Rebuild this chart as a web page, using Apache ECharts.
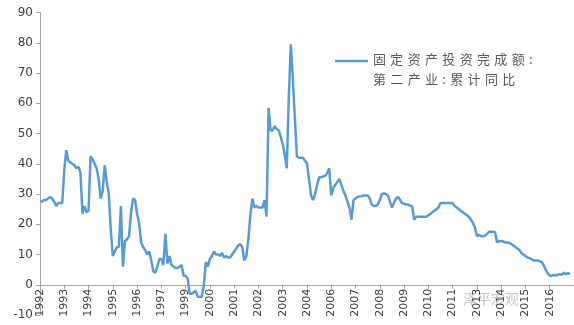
<!DOCTYPE html>
<html><head><meta charset="utf-8">
<script src="https://cdn.jsdelivr.net/npm/echarts@6/dist/echarts.min.js"></script>
<style>html,body{margin:0;padding:0;background:#fff}#c{width:574px;height:325px}</style>
</head><body><div id="c"></div>
<script>
// Tick labels shown every 12 monthly observations
const tickLabels = ['1992','1993','1994','1995','1996','1997','1999','2000','2001','2002','2003','2004','2006','2007','2008','2009','2010','2011','2013','2014','2015','2016'];
const yTicks = [-10,0,10,20,30,40,50,60,70,80,90];
const seriesName = '固定资产投资完成额:第二产业:累计同比';
// 累计同比 (%) monthly observations
const values1992 = [27.4,27.5,28,28,28.5,29,28.5,27.5,26,27,27,27];
const values1993 = [38,44.5,41,40.5,40,39.5,38.5,39,37,23.5,26,24];
const values1994 = [24.5,42.5,41.5,40,38.5,35,28.5,31,39.5,34,30,18];
const values1995 = [9.5,11,12.5,12.5,26,6,14.5,15,16,24,28.5,28];
const values1996 = [23.5,20.5,14,12.5,11.5,10,11,8,4.5,4,6,8.5];
const values1997 = [8.5,6.5,16.8,7,9.5,6.5,6,5.5,5.5,6,6.5,3];
const values1999 = [3,2,-3,-3,-2.5,-2,-4,-4,-4,0,7.5,6];
const values2000 = [8.5,9.5,11,10,10,9.5,10.5,9,9.5,9,9,10];
const values2001 = [11,12,13,13.5,12.5,8,9.5,15,23,28.5,25.5,26];
const values2002 = [25.5,25.5,25.5,28,22.5,58.5,51,51,52.5,51.5,51,49];
const values2003 = [46.5,43,38.5,62,79.5,68,55,42.5,42,42,42,41];
const values2004 = [40,35,29.5,28,30,33,35.5,35.5,35.8,36,37,38.5];
const values2006 = [29.5,32,33,34,35,33,31,29.5,27.5,25.5,21.5,28];
const values2007 = [28.5,29,29.2,29.3,29.5,29.5,29.5,28.5,26.5,26,26,26.5];
const values2008 = [28,30,30.2,30,29.5,27.5,25.5,27,28.5,29,28,27];
const values2009 = [26.8,26.5,26.5,26,26,21.5,22.5,22.5,22.5,22.5,22.5,22.5];
const values2010 = [23,23.5,24,24.5,25,25.5,27,27,27,27,27,27];
const values2011 = [27,26,25.5,25,24.5,24,23.5,23,22.5,21.5,20.5,19];
const values2013 = [16,16.5,16,16,16.2,16.8,17.5,17.5,17.5,17.3,14,14.5];
const values2014 = [14.5,14.3,14,14,13.8,13.5,13,12.5,12,11.5,10.5,10];
const values2015 = [9.5,9,8.8,8.5,8,8,8,7.8,7.5,6.5,5,3.8];
const values2016 = [3,3,3.2,3,3.3,3.5,3.3,4,3.5,3.8,3.5];

const allValues = [].concat(values1992,values1993,values1994,values1995,values1996,values1997,values1999,values2000,values2001,values2002,values2003,values2004,values2006,values2007,values2008,values2009,values2010,values2011,values2013,values2014,values2015,values2016);
const seriesData = allValues.map((v,i)=>[i,v]);

const sp = '\u2004';
const legendLine1 = ['固','定','资','产','投','资','完','成','额',':'].join(sp);
const legendLine2 = ['第','二','产','业',':','累','计','同','比'].join(sp);

const gridTop = 12.5, gridBottom = 10, chartH = 325;
const plotH = chartH - gridTop - gridBottom;
const zeroOffset = -plotH * (0 - yTicks[0]) / (yTicks[yTicks.length-1] - yTicks[0]);

const chart = echarts.init(document.getElementById('c'), null, {renderer:'canvas'});
chart.setOption({
  animation:false,
  backgroundColor:'#fff',
  grid:{left:40,right:0,top:gridTop,bottom:gridBottom,containLabel:false,outerBoundsMode:'none'},
  xAxis:{
    type:'value', min:0, max:264, interval:12, position:'bottom', offset:zeroOffset,
    axisLine:{onZero:false,lineStyle:{color:'#a6a6a6',width:1}},
    axisTick:{show:true,length:4,lineStyle:{color:'#a6a6a6'}},
    splitLine:{show:false},
    axisLabel:{
      rotate:90, margin:4, fontSize:11, color:'#404040', fontFamily:'DejaVu Sans',
      formatter:function(v){const k=Math.round(v/12);return (v%12===0 && tickLabels[k])?tickLabels[k]:'';}
    }
  },
  yAxis:{
    type:'value', min:yTicks[0], max:yTicks[yTicks.length-1], interval:10,
    axisLine:{show:true,lineStyle:{color:'#a6a6a6',width:1}},
    axisTick:{show:true,length:4,lineStyle:{color:'#a6a6a6'}},
    splitLine:{show:false},
    axisLabel:{fontSize:12,color:'#404040',margin:7,fontFamily:'DejaVu Sans'}
  },
  series:[{
    name:seriesName, type:'line', data:seriesData, showSymbol:false,
    lineStyle:{color:'#5b9bd5',width:2.5}, itemStyle:{color:'#5b9bd5'}
  }],
  graphic:[
    {type:'line',shape:{x1:335,y1:61,x2:368,y2:61},style:{stroke:'#5b9bd5',lineWidth:2.5}},
    {type:'text',left:373,top:53,style:{text:legendLine1,fill:'#595959',font:'13px "Noto Sans CJK SC"'}},
    {type:'text',left:373,top:73,style:{text:legendLine2,fill:'#595959',font:'13px "Noto Sans CJK SC"'}},
    {type:'text',left:463,top:292,style:{text:'泽平宏观',fill:'rgba(150,150,150,0.55)',font:'14px "Noto Sans CJK SC"'}}
  ]
});
</script></body></html>
